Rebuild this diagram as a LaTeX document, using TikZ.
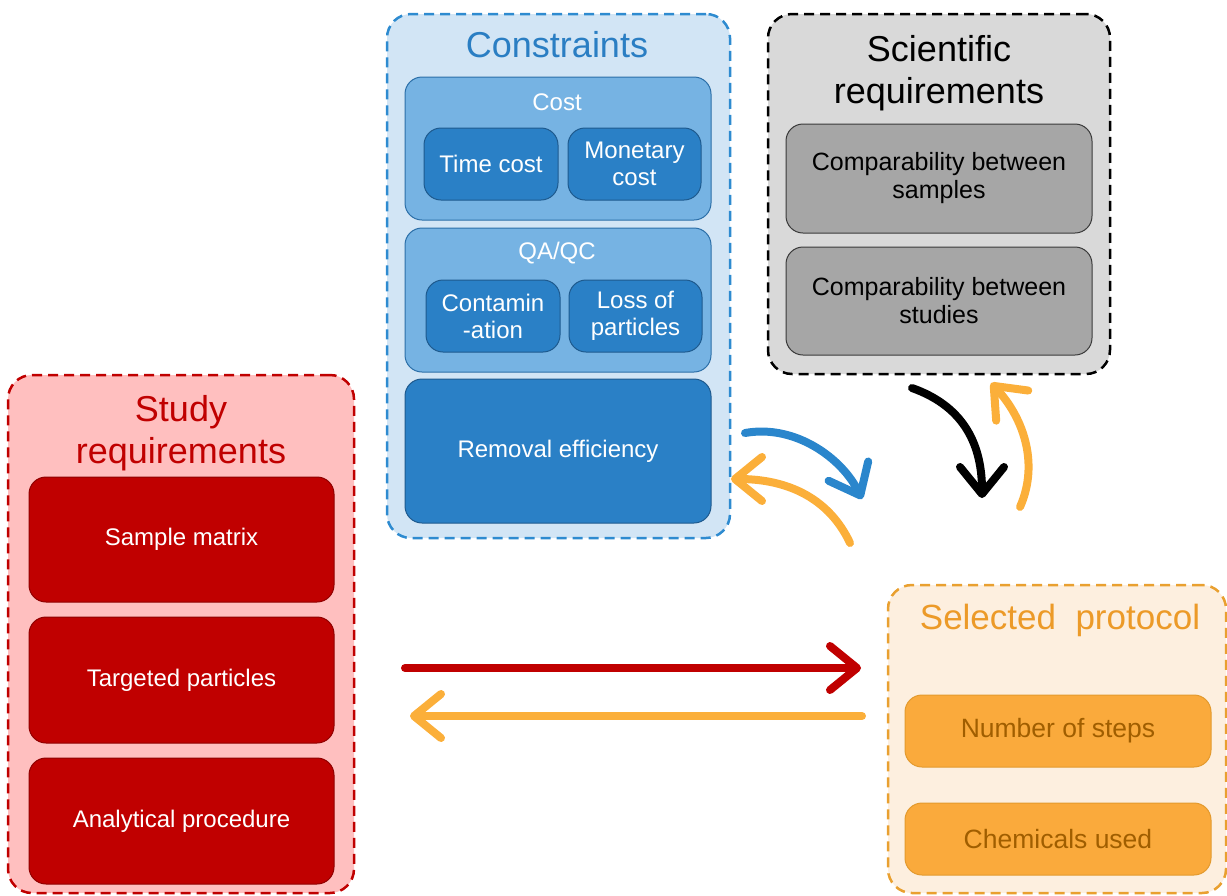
\documentclass[tikz,border=0pt]{standalone}
\usepackage{fontspec}
\setmainfont{Liberation Sans}
\usetikzlibrary{arrows.meta}
\definecolor{conFill}{HTML}{D2E5F5}
\definecolor{conLine}{HTML}{2E8BD0}
\definecolor{conTitle}{HTML}{2A7EC3}
\definecolor{midBlue}{HTML}{76B3E3}
\definecolor{midLine}{HTML}{2C6FA8}
\definecolor{darkBlue}{HTML}{2A80C6}
\definecolor{darkLine}{HTML}{1E5A8E}
\definecolor{sciFill}{HTML}{D9D9D9}
\definecolor{grayBox}{HTML}{A6A6A6}
\definecolor{grayLine}{HTML}{3A3A3A}
\definecolor{stuFill}{HTML}{FFBFBF}
\definecolor{stuRed}{HTML}{C00000}
\definecolor{stuLine}{HTML}{900000}
\definecolor{proFill}{HTML}{FDEFDF}
\definecolor{proLine}{HTML}{E9A030}
\definecolor{proTitle}{HTML}{EC9A28}
\definecolor{proBox}{HTML}{FAAA3C}
\definecolor{proBoxLine}{HTML}{E39A2E}
\definecolor{proText}{HTML}{A05E00}
\definecolor{arrOrange}{HTML}{FBAF3A}
\definecolor{arrBlue}{HTML}{2A86CC}
\begin{document}
\begin{tikzpicture}[x=1pt,y=-1pt,
  outer/.style={rounded corners=24pt, dash pattern=on 10pt off 6pt, line width=2.5pt, inner sep=0pt},
  box/.style={rounded corners=17pt, line width=1pt, inner sep=0pt, align=center},
  bigtitle/.style={inner sep=0pt, align=center, font=\fontsize{36}{42}\selectfont},
  smalltitle/.style={inner sep=0pt, align=center, font=\fontsize{24}{27}\selectfont, text=white},
  txt24/.style={font=\fontsize{24}{27}\selectfont},
  arr/.style={line width=8pt, line cap=round, -{Straight Barb[length=27pt, width=44pt, line cap=round, line join=round]}}
]
\useasboundingbox (0,0) rectangle (1227,895);

% Constraints
\node[outer, draw=conLine, fill=conFill, minimum width=343pt, minimum height=524pt] (con) at (558.5,276) {};
\node[bigtitle, text=conTitle] (conT) at (557,45) {Constraints};
\node[box, draw=midLine, fill=midBlue, minimum width=306pt, minimum height=143pt] (cost) at (558,148.5) {};
\node[smalltitle] (costT) at (557,102) {Cost};
\node[box, txt24, text=white, draw=darkLine, fill=darkBlue, minimum width=134pt, minimum height=72pt] (time) at (491,164) {Time cost};
\node[box, txt24, text=white, draw=darkLine, fill=darkBlue, minimum width=133pt, minimum height=72pt] (mon) at (634.5,164) {Monetary\\cost};
\node[box, draw=midLine, fill=midBlue, minimum width=306pt, minimum height=144pt] (qa) at (558,300) {};
\node[smalltitle] (qaT) at (557,253) {QA/QC};
\node[box, txt24, text=white, draw=darkLine, fill=darkBlue, minimum width=134pt, minimum height=72pt] (cont) at (493,316) {Contamin\\-ation};
\node[box, txt24, text=white, draw=darkLine, fill=darkBlue, minimum width=133pt, minimum height=72pt] (loss) at (635.5,316) {Loss of\\particles};
\node[box, txt24, text=white, draw=darkLine, fill=darkBlue, minimum width=306pt, minimum height=144pt] (rem) at (558,451) {Removal efficiency};

% Scientific requirements
\node[outer, draw=black, fill=sciFill, minimum width=342pt, minimum height=360pt] (sci) at (939,194) {};
\node[bigtitle, text=black] (sciT) at (939,73) {Scientific\\requirements};
\node[box, draw=grayLine, fill=grayBox, font=\fontsize{25}{28}\selectfont, minimum width=306pt, minimum height=109pt] (cs) at (939,178.5) {Comparability between\\samples};
\node[box, draw=grayLine, fill=grayBox, font=\fontsize{25}{28}\selectfont, minimum width=306pt, minimum height=108pt] (cst) at (939,301) {Comparability between\\studies};

% Study requirements
\node[outer, draw=stuRed, fill=stuFill, minimum width=346pt, minimum height=518pt] (stu) at (181,634) {};
\node[bigtitle, text=stuRed] (stuT) at (181,433) {Study\\requirements};
\node[box, txt24, text=white, draw=stuLine, fill=stuRed, minimum width=305pt, minimum height=125pt] (sm) at (181.5,539.5) {Sample matrix};
\node[box, txt24, text=white, draw=stuLine, fill=stuRed, minimum width=305pt, minimum height=126pt] (tp) at (181.5,680) {Targeted particles};
\node[box, txt24, text=white, draw=stuLine, fill=stuRed, minimum width=305pt, minimum height=126pt] (ap) at (181.5,821) {Analytical procedure};

% Selected protocol
\node[outer, draw=proLine, fill=proFill, minimum width=338pt, minimum height=308pt] (pro) at (1057,739) {};
\node[bigtitle, text=proTitle, font=\fontsize{35}{40}\selectfont] (proT) at (1060,620) {Selected\ \ protocol};
\node[box, draw=proBoxLine, fill=proBox, text=proText, font=\fontsize{26.5}{30}\selectfont, minimum width=306pt, minimum height=72pt] (ns) at (1058,731) {Number of steps};
\node[box, draw=proBoxLine, fill=proBox, text=proText, font=\fontsize{26.5}{30}\selectfont, minimum width=306pt, minimum height=72pt] (cu) at (1058,839) {Chemicals used};

% Arrow end points
\coordinate (r1) at (405,668);
\coordinate (r2) at (861,668);
\coordinate (o1) at (862,716);
\coordinate (o2) at (410,716);
\coordinate (b1) at (745,433);
\coordinate (b2) at (862,499);
\coordinate (c1) at (850,543);
\coordinate (c2) at (731,479);
\coordinate (k1) at (912,388);
\coordinate (k2) at (982,498);
\coordinate (d1) at (1020,507);
\coordinate (d2) at (991,383);

\draw[arr, draw=stuRed] (r1) -- (r2);
\draw[arr, draw=arrOrange] (o1) -- (o2);
\draw[arr, draw=arrBlue] (b1) .. controls (795,424) and (842,458) .. (b2);
\draw[arr, draw=arrOrange] (c1) .. controls (830,500) and (790,479) .. (c2);
\draw[arr, draw=black] (k1) .. controls (960,405) and (982,440) .. (k2);
\draw[arr, draw=arrOrange] (d1) .. controls (1040,462) and (1022,416) .. (d2);
\end{tikzpicture}
\end{document}
